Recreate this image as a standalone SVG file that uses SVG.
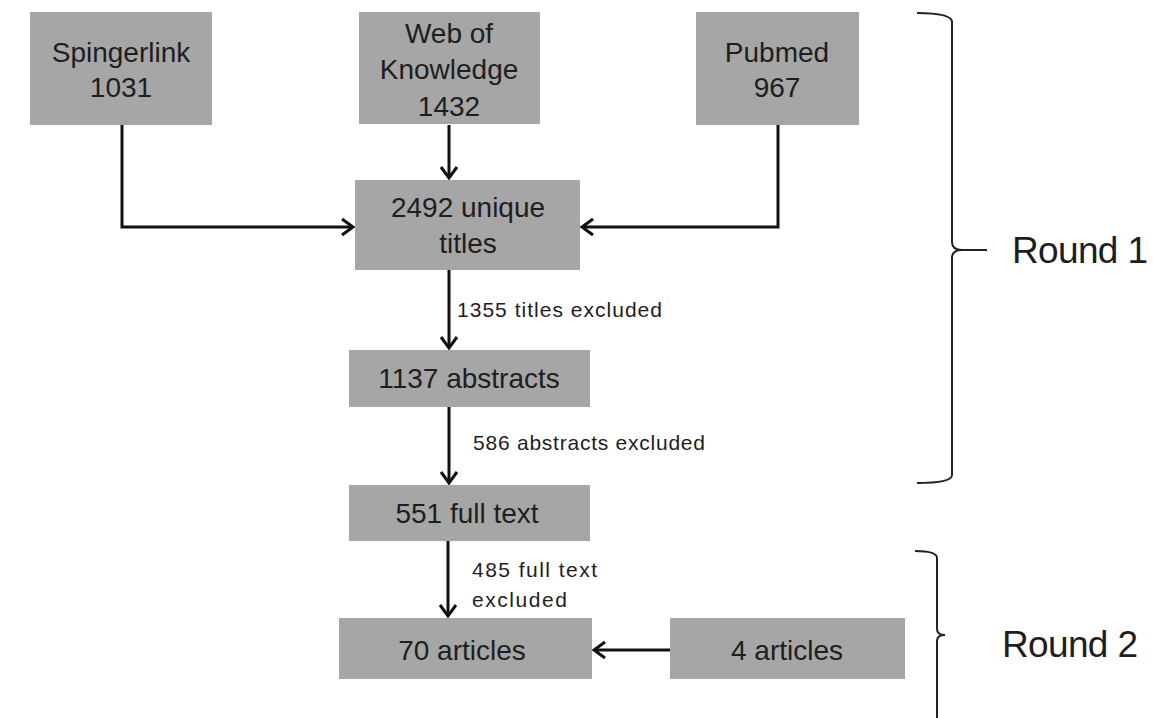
<svg xmlns="http://www.w3.org/2000/svg" width="1155" height="718" viewBox="0 0 1155 718">
<defs>
<style>
.box{fill:#a6a6a6;}
.t{font-family:"Liberation Sans",Arial,sans-serif;font-size:28px;fill:#1e1e1e;text-anchor:middle;}
.lbl{font-family:"Liberation Sans",Arial,sans-serif;font-size:21px;fill:#1e1e1e;}
.rnd{font-family:"Liberation Sans",Arial,sans-serif;font-size:37px;fill:#1e1e1e;}
.c{fill:none;stroke:#111;stroke-width:3;}
.br{fill:none;stroke:#222;stroke-width:2;}
</style>
<marker id="ah" markerUnits="userSpaceOnUse" markerWidth="16" markerHeight="20" refX="12" refY="10" orient="auto">
<path d="M1,2 L12,10 L1,18" fill="none" stroke="#111" stroke-width="3"/>
</marker>
</defs>
<rect width="1155" height="718" fill="#fff"/>
<g id="connectors">
<path class="c" d="M122,125 V227 H353" marker-end="url(#ah)"/>
<path class="c" d="M449,125 V178" marker-end="url(#ah)"/>
<path class="c" d="M778,125 V227 H582" marker-end="url(#ah)"/>
<path class="c" d="M449,270 V348" marker-end="url(#ah)"/>
<path class="c" d="M449,407 V483" marker-end="url(#ah)"/>
<path class="c" d="M448,541 V616" marker-end="url(#ah)"/>
<path class="c" d="M670,650 H594" marker-end="url(#ah)"/>
</g>
<g id="spingerlink"><rect class="box" x="30" y="12" width="182" height="113"/><text class="t" x="121" y="62">Spingerlink</text><text class="t" x="121" y="97">1031</text></g>
<g id="wok"><rect class="box" x="359" y="12" width="181" height="112"/><text class="t" x="449" y="43">Web of</text><text class="t" x="449" y="79">Knowledge</text><text class="t" x="449" y="116">1432</text></g>
<g id="pubmed"><rect class="box" x="696" y="12" width="163" height="113"/><text class="t" x="777" y="62">Pubmed</text><text class="t" x="777" y="97">967</text></g>
<g id="unique"><rect class="box" x="355" y="180" width="225" height="90"/><text class="t" x="468" y="217">2492 unique</text><text class="t" x="468" y="253">titles</text></g>
<g id="abstracts"><rect class="box" x="349" y="350" width="241" height="57"/><text class="t" x="469" y="388">1137 abstracts</text></g>
<g id="fulltext"><rect class="box" x="349" y="485" width="241" height="56"/><text class="t" x="467" y="523">551 full text</text></g>
<g id="articles70"><rect class="box" x="339" y="618" width="253" height="61"/><text class="t" x="462" y="660">70 articles</text></g>
<g id="articles4"><rect class="box" x="670" y="618" width="235" height="61"/><text class="t" x="787" y="660">4 articles</text></g>
<g id="labels">
<text class="lbl" x="457" y="317" textLength="205">1355 titles excluded</text>
<text class="lbl" x="473" y="450" textLength="232">586 abstracts excluded</text>
<text class="lbl" x="472" y="577" textLength="125">485 full text</text>
<text class="lbl" x="472" y="607" textLength="95">excluded</text>
</g>
<g id="round1">
<path class="br" d="M917,13 Q952,13 952,22 V242 Q952,250 962,250 H987 M962,250 Q952,250 952,258 V475 Q952,483 917,483"/>
<text class="rnd" x="1012" y="263" textLength="136">Round 1</text>
</g>
<g id="round2">
<path class="br" d="M915,551 Q937,551 937,558 V629 Q937,635 945,635 M945,635 Q937,635 937,641 V718"/>
<text class="rnd" x="1002" y="657" textLength="136">Round 2</text>
</g>
</svg>
